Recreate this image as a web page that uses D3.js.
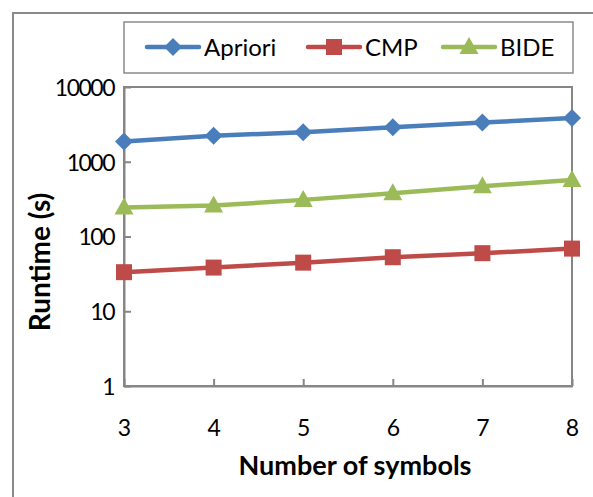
<!DOCTYPE html>
<html>
<head>
<meta charset="utf-8">
<script src="https://cdn.jsdelivr.net/npm/d3@7"></script>
<style>
  body { margin: 0; background: #fff; }
  text { font-family: Lato, "Open Sans", sans-serif; fill: #000; }
</style>
</head>
<body>
<div id="chart"></div>
<script>
var symbols = [3, 4, 5, 6, 7, 8];
var apriori = [1860, 2220, 2490, 2900, 3350, 3840];
var cmp = [33.3, 38.4, 44.7, 52.8, 59.8, 68.9];
var bide = [245, 259, 309, 378, 469, 572];
var yTicks = [1, 10, 100, 1000, 10000];

var series = [
    { name: 'Apriori', values: apriori, color: '#4A7EBB', marker: 'diamond' },
    { name: 'CMP', values: cmp, color: '#BE4B48', marker: 'square' },
    { name: 'BIDE', values: bide, color: '#9BBB59', marker: 'triangle' }
];

var W = 593, H = 497;
var pad = { left: 124, right: 21, top: 87, bottom: 111 };
var w = W - pad.left - pad.right;
var h = H - pad.top - pad.bottom;
var axisColor = '#868686';

var svg = d3.select('#chart').append('svg')
    .attr('width', W)
    .attr('height', H);

// outer chart frame (right and bottom edges fall outside the picture)
svg.append('rect')
    .attr('x', 13).attr('y', 13)
    .attr('width', W + 20).attr('height', H + 20)
    .attr('fill', 'none')
    .attr('stroke', '#8a8a8a')
    .attr('stroke-width', 2);

var g = svg.append('g')
    .attr('transform', 'translate(' + pad.left + ',' + pad.top + ')');

var x = d3.scaleLinear().domain([3, 8]).range([0, w]);
var y = d3.scaleLog().domain([1, 10000]).range([h, 0]);

// plot area border
g.append('rect')
    .attr('width', w).attr('height', h)
    .attr('fill', 'none')
    .attr('stroke', axisColor)
    .attr('stroke-width', 2);

var yAxis = d3.axisLeft(y).tickValues(yTicks).tickFormat(d3.format('d'))
    .tickSizeInner(-7).tickSizeOuter(0).tickPadding(10);
var xAxis = d3.axisBottom(x).tickValues(symbols).tickFormat(d3.format('d'))
    .tickSizeInner(-7).tickSizeOuter(0).tickPadding(34);

var ya = g.append('g').call(yAxis);
var xa = g.append('g').attr('transform', 'translate(0,' + h + ')').call(xAxis);

[ya, xa].forEach(function (a) {
    a.select('.domain').attr('stroke', axisColor).attr('stroke-width', 2);
    a.selectAll('.tick line').attr('stroke', axisColor).attr('stroke-width', 2);
    a.selectAll('.tick text').attr('fill', '#000')
        .style('font-family', 'Lato, "Open Sans", sans-serif');
});
ya.selectAll('.tick text').attr('dy', '0.36em')
    .attr('font-size', 23).attr('letter-spacing', -1.5);
xa.selectAll('.tick text').attr('font-size', 23);

var line = d3.line()
    .x(function (d, i) { return x(symbols[i]); })
    .y(function (d) { return y(d); });

function drawMarker(sel, type, color) {
    if (type === 'diamond') {
        sel.append('path').attr('d', 'M0,-9L9,0L0,9L-9,0Z').attr('fill', color);
    } else if (type === 'square') {
        sel.append('rect').attr('x', -8).attr('y', -8).attr('width', 16).attr('height', 16)
            .attr('fill', color);
    } else {
        sel.append('path').attr('d', 'M0,-10L9.5,7L-9.5,7Z').attr('fill', color);
    }
}

series.forEach(function (s) {
    g.append('path')
        .datum(s.values)
        .attr('d', line)
        .attr('fill', 'none')
        .attr('stroke', s.color)
        .attr('stroke-width', 4.5)
        .attr('stroke-linejoin', 'round');

    s.values.forEach(function (v, i) {
        var m = g.append('g')
            .attr('transform', 'translate(' + x(symbols[i]) + ',' + y(v) + ')');
        drawMarker(m, s.marker, s.color);
    });
});

// axis titles
svg.append('text')
    .attr('x', 355)
    .attr('y', 475)
    .attr('text-anchor', 'middle')
    .attr('font-size', 27)
    .attr('font-weight', 'bold')
    .text('Number of symbols');

svg.append('text')
    .attr('transform', 'translate(50,262) rotate(-90)')
    .attr('text-anchor', 'middle')
    .attr('font-size', 28)
    .attr('font-weight', 'bold')
    .text('Runtime (s)');

// legend
var legend = svg.append('g');
legend.append('rect')
    .attr('x', 124).attr('y', 22)
    .attr('width', 449).attr('height', 51)
    .attr('fill', '#fff')
    .attr('stroke', '#8a8a8a')
    .attr('stroke-width', 1.5);

var legendX = [147, 308, 443];
series.forEach(function (s, i) {
    var lg = legend.append('g').attr('transform', 'translate(' + legendX[i] + ',47)');
    lg.append('line')
        .attr('x1', 0).attr('x2', 52)
        .attr('stroke', s.color)
        .attr('stroke-width', 4.5)
        .attr('stroke-linecap', 'round');
    var m = lg.append('g').attr('transform', 'translate(26,0)');
    drawMarker(m, s.marker, s.color);
    lg.append('text')
        .attr('x', 57)
        .attr('dy', '0.36em')
        .attr('font-size', 24)
        .text(s.name);
});
</script>
</body>
</html>
